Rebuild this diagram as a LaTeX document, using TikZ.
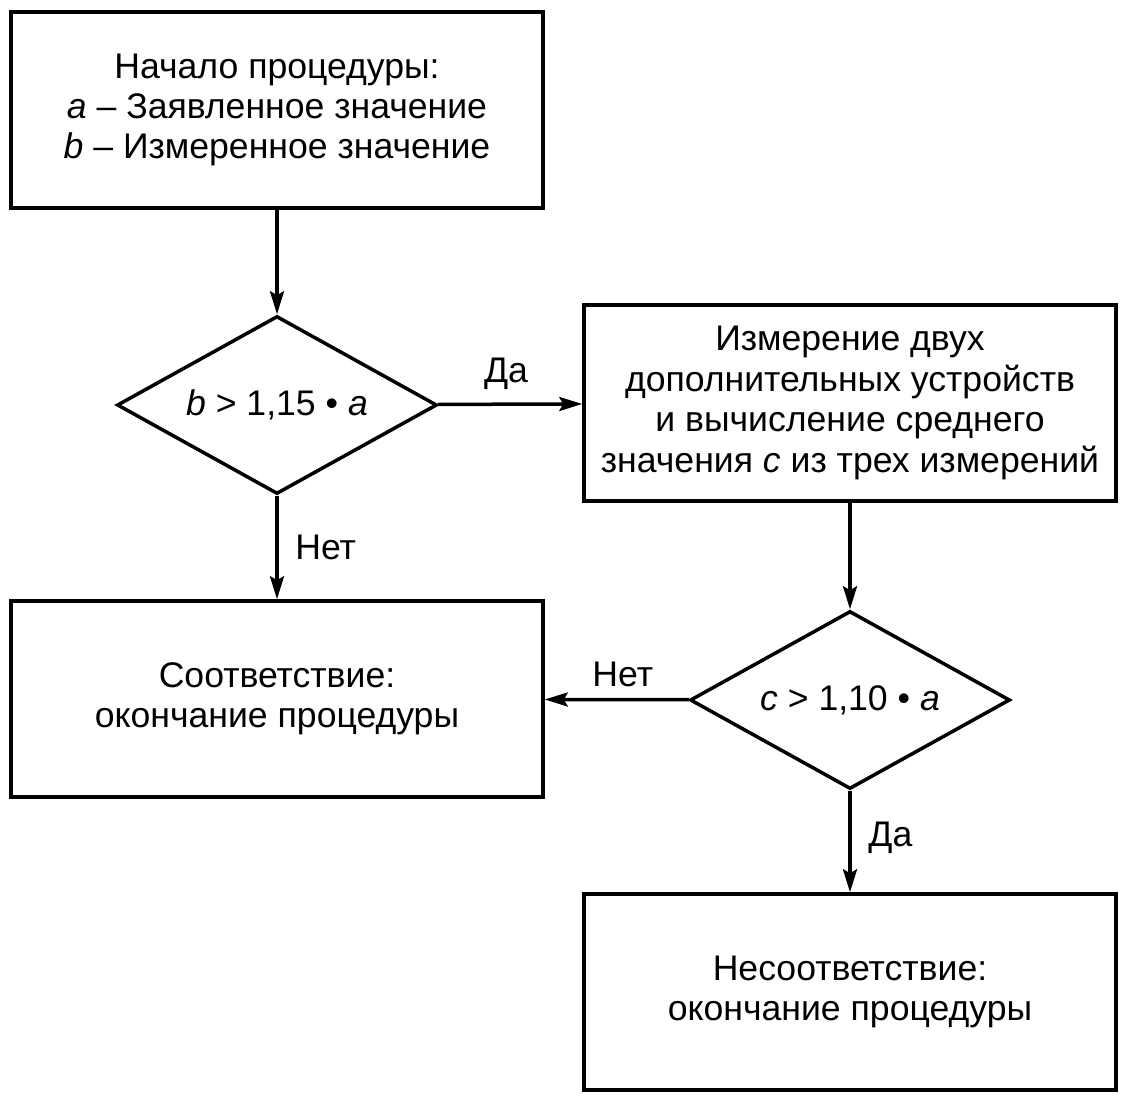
\documentclass[tikz,border=0pt]{standalone}
\usepackage{fontspec}
\setmainfont{Liberation Sans}
\usetikzlibrary{shapes.geometric,arrows.meta}

\begin{document}
\begin{tikzpicture}
    [x=0.5pt,y=-0.5pt,line width=1.75pt,
     every node/.style={font=\fontsize{17.8}{20.2}\selectfont},
     blok/.style={draw,rectangle,minimum width=266pt,minimum height=98pt,align=center},
     vopros/.style={draw,diamond,aspect=1.8,inner sep=0pt,minimum width=160pt,minimum height=89pt},
     strelka/.style={-{Stealth[length=11.5pt,width=7pt,inset=2pt]}}]
    \useasboundingbox (0,0) rectangle (1128,1101);
    \node[blok] (nachalo) at (277,110) {Начало процедуры:\\ \textit{a} – Заявленное значение\\ \textit{b} – Измеренное значение};
    \node[vopros] (v1) at (277,405) {\textit{b} > 1,15 • \textit{a}};
    \node[blok] (izmer) at (850,403) {Измерение двух\\ дополнительных устройств\\ и вычисление среднего\\ значения \textit{c} из трех измерений};
    \node[blok] (sootv) at (277,699) {Соответствие:\\ окончание процедуры};
    \node[vopros] (v2) at (850,700) {\textit{c} > 1,10 • \textit{a}};
    \node[blok] (nesootv) at (850,992) {Несоответствие:\\ окончание процедуры};
    \draw[strelka] (nachalo) -- (v1) ;
    \draw[strelka] (v1) -- node[above=3pt,xshift=-2pt] {Да} (izmer) ;
    \draw[strelka] (v1) -- node[right=5pt] {Нет} (sootv) ;
    \draw[strelka] (izmer) -- (v2) ;
    \draw[strelka] (v2) -- node[above=2pt,xshift=3pt] {Нет} (sootv) ;
    \draw[strelka] (v2) -- node[right=5pt,yshift=2pt] {Да} (nesootv) ;
  \end{tikzpicture}
\end{document}
